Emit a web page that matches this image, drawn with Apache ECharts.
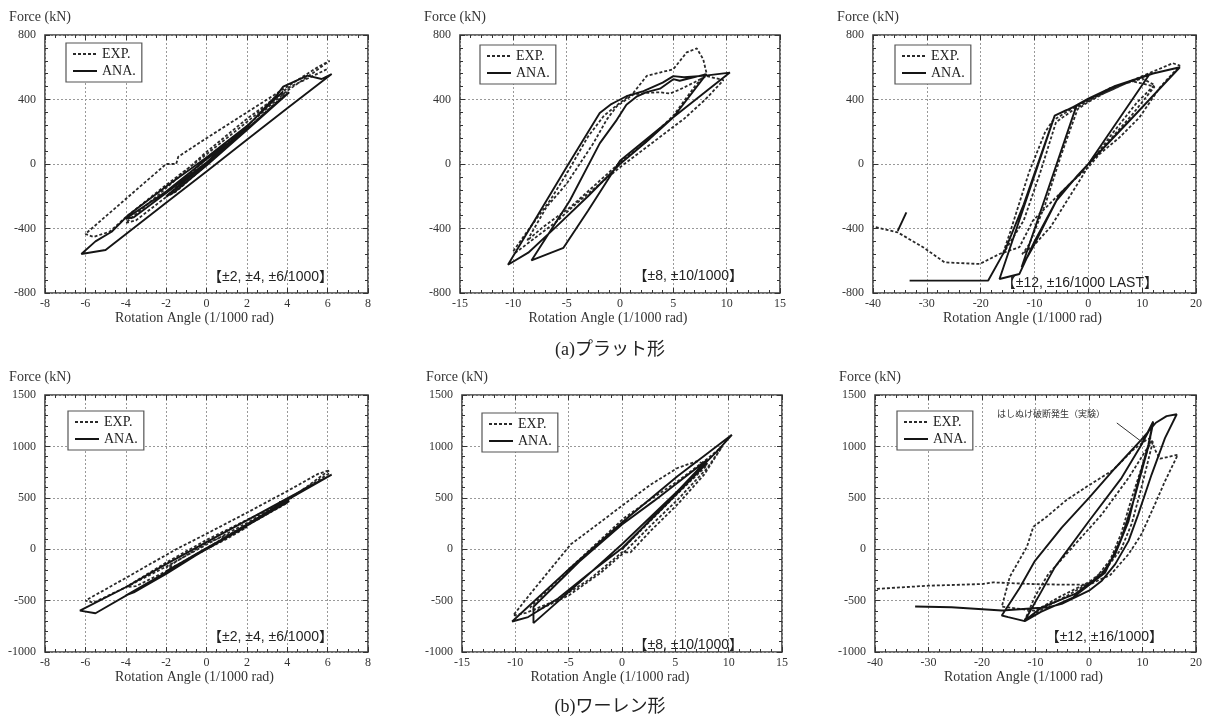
<!DOCTYPE html>
<html><head><meta charset="utf-8">
<script src="https://cdn.jsdelivr.net/npm/echarts@6/dist/echarts.min.js"></script>
<style>html,body{margin:0;padding:0;background:#fff}#c{width:1207px;height:720px}</style>
</head><body><div id="c"></div>
<script>
// ---------------- DATA ----------------
const seriesNames = ['EXP.', 'ANA.'];
const xTitle = 'Rotation Angle (1/1000 rad)';
const yTitle = 'Force (kN)';
const captions = ['(a)プラット形', '(b)ワーレン形'];
const notes = ['【±2, ±4, ±6/1000】', '【±8, ±10/1000】', '【±12, ±16/1000 LAST】',
               '【±2, ±4, ±6/1000】', '【±8, ±10/1000】', '【±12, ±16/1000】'];
const failNote = 'はしぬけ破断発生（実験）';
// axis ranges: [min, max, interval]
const xRangeSmall = [-8, 8, 2];
const xRangeMid = [-15, 15, 5];
const xRangeLarge = [-40, 20, 10];
const yRangePratt = [-800, 800, 400];
const yRangeWarren = [-1000, 1500, 500];

// (a) Pratt, ±2, ±4, ±6
const pratt1Exp = [[0,0],[1,110],[2,225],[1.5,185],[0,35],[-1,-85],[-2,-205],[-1.5,-170],[0,-5],[2,215],[4,445],[3.5,420],[2,280],[0,75],[-2,-150],[-4,-365],[-3.5,-350],[-2,-205],[0,0],[2,235],[4,455],[5,540],[6.1,640],[5.5,600],[4,480],[2,320],[0,160],[-1.4,45],[-1.5,0],[-2,0],[-4,-217],[-6,-434],[-5.6,-452],[-4.8,-420],[-4,-330],[-2,-130],[0,60],[2,260],[4,470],[6,590]];
const pratt1Ana = [[0,0],[2,210],[1.6,170],[0,5],[-2,-200],[-1.6,-175],[0,-10],[2,210],[4.1,445],[3.7,405],[2,215],[0,30],[-2,-170],[-4,-340],[-3.6,-330],[-2,-180],[0,10],[2,230],[3.5,430],[3.8,480],[5,548],[5.7,527],[6.2,558],[4,345],[2,150],[0,-46],[-2,-240],[-4,-435],[-5,-533],[-6.2,-558],[-5.5,-480],[-4.7,-420],[-3.9,-320],[-2,-140],[0,40],[2,235],[3.8,450]];

// (a) Pratt, ±8, ±10
const pratt2Exp = [[-10,-540],[-8.5,-400],[-6.5,-220],[-5,-60],[-3,170],[-1.5,300],[0,380],[1.25,441],[2.5,546],[3.75,567],[5,588],[6.25,692],[7.2,717],[7.8,650],[8.1,567],[7,480],[5,300],[2.5,140],[0,10],[-2,-110],[-4.7,-270],[-7.2,-390],[-8.7,-475],[-6.9,-268],[-5,-122],[-2.5,128],[-1.25,275],[-0.3,358],[1.25,431],[2.5,441],[3.75,445],[4.7,437],[5.6,462],[6.9,504],[8.1,546],[9.7,520],[8,400],[6,280],[4,180],[2,80],[0,-20],[-2,-130],[-4,-240],[-6,-360],[-8,-460],[-10,-560]];
const pratt2Ana = [[0,0],[2.5,140],[5,290],[8.1,557],[6.9,537],[5.6,516],[5,526],[3.75,467],[2.5,446],[1.6,420],[0.6,368],[-0.3,274],[-1.9,128],[-4.7,-226],[-8.3,-598],[-5.3,-520],[-3,-290],[0,20],[5,290],[10.3,567],[8,548],[6,538],[5,545],[4,505],[2.2,452],[0.6,420],[-0.3,389],[-0.9,368],[-1.9,316],[-5,-18],[-10.5,-625],[-8.6,-550],[-6,-390],[-3,-200],[0,0]];

// (a) Pratt, ±12, ±16 LAST
const pratt3Exp = [[0,0],[4,150],[8,300],[12.3,480],[8,515],[3,440],[0,385],[-2,340],[-5,60],[-8,-250],[-11,-500],[-12.3,-560],[-10,-500],[-7,-390],[-4,-230],[-1,-70],[0,-10],[4,170],[9,380],[12.3,490],[10,530],[4,470],[0,390],[-3,330],[-6,260],[-9,-60],[-12,-350],[-15.9,-560],[-14.5,-420],[-11,-50],[-8,200],[-6.6,269],[-3,345],[0,395],[5,470],[10,545],[15.7,625],[17,610],[13.3,475],[9.5,289],[5.8,165],[2.1,62],[0,-20],[-2.8,-103],[-6.6,-227],[-10.3,-351],[-12.8,-516],[-16.5,-558],[-20.2,-620],[-26.7,-610],[-30.7,-516],[-35.4,-424],[-40,-388]];
const pratt3Ana = [[0,0],[5,245],[11.4,558],[5,480],[0,403],[-2.2,362],[-7,-110],[-12.4,-640],[-10.3,-517],[-7.8,-351],[-5.3,-186],[-1.6,-62],[0,0],[8,282],[17,600],[12,562],[5,485],[0,405],[-3,350],[-6.25,300],[-16.5,-713],[-12.8,-682],[-10,-480],[-6,-230],[-2,-70],[0,0],[8,280],[17,600],[12,560],[5,480],[0,400],[-4,335],[-6.25,300],[-12,-250],[-15.5,-537],[-18.6,-723],[-33.2,-723]];
const pratt3Mark = [[-35.4,-415],[-33.8,-300]];

// (b) Warren, ±2, ±4, ±6
const warren1Exp = [[0,0],[1,100],[2,215],[1.5,175],[0,60],[-1,-60],[-2,-180],[-1.5,-160],[0,0],[2,230],[4,450],[3.5,425],[2,285],[0,90],[-2,-130],[-4,-370],[-3.5,-360],[-2,-215],[0,10],[2,240],[4,470],[6.1,770],[5.5,730],[4,565],[2,355],[0,150],[-1.5,0],[-4,-280],[-6,-500],[-5.6,-520],[-4,-370],[-2,-170],[0,45],[2,255],[4,485],[6.1,740]];
const warren1Ana = [[0,0],[2,225],[1.6,185],[0,10],[-2,-215],[-1.6,-180],[0,0],[2,230],[4.1,468],[3.7,425],[2,230],[0,2],[-2,-225],[-4,-450],[-3.6,-420],[-2,-240],[0,5],[2,240],[4,480],[6.2,726],[4,495],[2,280],[0,68],[-2,-145],[-4,-370],[-6.27,-597],[-5.5,-623],[-3,-340],[0,2],[2,230],[4.1,468],[3.6,460]];

// (b) Warren, ±8, ±10
const warren2Exp = [[0,0],[2.7,280],[5.2,540],[8,820],[7,855],[5.2,790],[2.7,629],[0.16,435],[-2.3,242],[-4.8,48],[-8.6,-435],[-10.2,-645],[-9,-620],[-6,-490],[-3,-290],[0,-30],[0.8,-30],[2.7,180],[5.2,435],[7.7,725],[9.4,1000],[8,880],[5.2,660],[2.7,485],[0.16,300],[-4.8,-177],[-8.6,-565],[-8,-600],[-5,-450],[-2,-230],[0,-50],[2.7,230],[5.2,480],[8,790],[9.4,1000]];
const warren2Ana = [[0,0],[4,430],[8,870],[6,710],[3,470],[0,240],[-4,-120],[-8.3,-560],[-8.3,-719],[-4.5,-371],[0,48],[5.2,565],[8.9,952],[10.3,1113],[5.2,710],[0.16,274],[-4.8,-177],[-10.3,-703],[-8.8,-660],[-6,-480],[-3,-230],[0,10],[4,420],[8,840]];

// (b) Warren, ±12, ±16
const warren3Exp = [[11.5,1050],[10.5,900],[8,500],[6,150],[4,-100],[1,-300],[-4,-450],[-8,-560],[-12,-690],[-10,-450],[-7.6,-242],[-2.6,48],[2.4,339],[7.4,694],[10.5,952],[12,1060],[11,850],[9.8,600],[8,250],[6,0],[3,-200],[0,-320],[-5,-450],[-10,-600],[-16.3,-559],[-14.8,-268],[-11.6,24],[-10.4,219],[-7.9,316],[-4.2,479],[-0.4,609],[4.5,770],[8.2,965],[10.7,1063],[11.5,1080],[12.5,950],[13.3,880],[15,900],[16.6,919],[14.2,661],[12.3,435],[9.8,145],[7.4,-48],[4,-250],[0,-345],[-5,-345],[-10,-340],[-17.9,-323],[-20,-339],[-30,-355],[-40,-387]];
const warren3Ana = [[-9,-420],[-6.4,-177],[0,274],[6.1,694],[9.8,1016],[12,1242],[11.1,1016],[9.2,661],[7.4,274],[4.9,-48],[2.4,-242],[-2.6,-435],[-8.8,-565],[-12,-694],[-9,-420],[-6.4,-177],[0,274],[6.1,694],[9.8,1016],[12,1230],[11,980],[8.5,500],[6,100],[3,-230],[-3,-470],[-9,-610],[-12,-700],[-15.1,-661],[-16.3,-645],[-13,-380],[-10.1,-113],[-5.1,210],[0,500],[4.9,790],[9.8,1065],[12.5,1230],[14.5,1295],[16.4,1313],[14.2,1080],[11.7,726],[9.2,339],[7.4,81],[4.9,-145],[2.4,-306],[0,-403],[-5.1,-532],[-7.6,-565],[-16.3,-597],[-25.7,-564],[-32.5,-558]];
const warren3Arrow = [[5.2,1228],[9.9,1043]];

// ---------------- LAYOUT ----------------
const SERIF = "'Liberation Serif','DejaVu Serif',serif";
const SANS = "'Liberation Sans','Noto Sans CJK JP',sans-serif";
const CJK = "'Liberation Serif','Noto Sans CJK JP',serif";

const panels = [
  {exp: pratt1Exp, ana: pratt1Ana, xr: xRangeSmall, yr: yRangePratt, box: [45, 35, 323, 258], leg: [66, 43], note: [333, 277], xMinor: 4},
  {exp: pratt2Exp, ana: pratt2Ana, xr: xRangeMid, yr: yRangePratt, box: [460, 35, 320, 258], leg: [480, 45], note: [743, 276], xMinor: 5},
  {exp: pratt3Exp, ana: pratt3Ana, xr: xRangeLarge, yr: yRangePratt, box: [873, 35, 323, 258], leg: [895, 45], note: [1158, 283], xMinor: 5},
  {exp: warren1Exp, ana: warren1Ana, xr: xRangeSmall, yr: yRangeWarren, box: [45, 395, 323, 257], leg: [68, 411], note: [333, 637], xMinor: 4},
  {exp: warren2Exp, ana: warren2Ana, xr: xRangeMid, yr: yRangeWarren, box: [462, 395, 320, 257], leg: [482, 413], note: [743, 645], xMinor: 5},
  {exp: warren3Exp, ana: warren3Ana, xr: xRangeLarge, yr: yRangeWarren, box: [875, 395, 321, 257], leg: [897, 411], note: [1163, 637], xMinor: 5}
];

const grid = [], xAxis = [], yAxis = [], series = [], legend = [], graphic = [];
const tickStyle = {color: '#333', width: 1};
const plain = v => String(v);
panels.forEach((p, i) => {
  grid.push({left: p.box[0], top: p.box[1], width: p.box[2], height: p.box[3],
    show: true, borderColor: '#3a3a3a', borderWidth: 1.6, backgroundColor: 'transparent'});
  const xBase = {gridIndex: i, type: 'value', min: p.xr[0], max: p.xr[1], interval: p.xr[2]};
  const yBase = {gridIndex: i, type: 'value', min: p.yr[0], max: p.yr[1], interval: p.yr[2]};
  xAxis.push(Object.assign({}, xBase, {
    position: 'bottom', axisLine: {show: false, onZero: false},
    axisTick: {show: true, inside: true, length: 5, lineStyle: tickStyle},
    minorTick: {show: true, splitNumber: p.xMinor, length: 3, lineStyle: tickStyle},
    splitLine: {show: true, lineStyle: {color: '#999', width: 1, type: [2, 2]}},
    axisLabel: {margin: 5, fontFamily: SERIF, fontSize: 12, color: '#333', showMinLabel: true, showMaxLabel: true, formatter: plain},
    name: xTitle, nameLocation: 'middle', nameGap: 18,
    nameTextStyle: {fontFamily: SERIF, fontSize: 14, color: '#333', padding: [0, 24, 0, 0]}
  }));
  xAxis.push(Object.assign({}, xBase, {
    position: 'top', axisLine: {show: false, onZero: false}, axisLabel: {show: false}, splitLine: {show: false},
    axisTick: {show: true, inside: true, length: 5, lineStyle: tickStyle},
    minorTick: {show: true, splitNumber: p.xMinor, length: 3, lineStyle: tickStyle}
  }));
  yAxis.push(Object.assign({}, yBase, {
    position: 'left', axisLine: {show: false, onZero: false},
    axisTick: {show: true, inside: true, length: 5, lineStyle: tickStyle},
    minorTick: {show: true, splitNumber: 5, length: 3, lineStyle: tickStyle},
    splitLine: {show: true, lineStyle: {color: '#999', width: 1, type: [2, 2]}},
    axisLabel: {margin: 9, fontFamily: SERIF, fontSize: 12, color: '#333', showMinLabel: true, showMaxLabel: true, formatter: plain},
    name: yTitle, nameLocation: 'end', nameGap: 11,
    nameTextStyle: {fontFamily: SERIF, fontSize: 14, color: '#333', align: 'center', padding: [0, 10, 0, 0]}
  }));
  yAxis.push(Object.assign({}, yBase, {
    position: 'right', axisLine: {show: false, onZero: false}, axisLabel: {show: false}, splitLine: {show: false},
    axisTick: {show: true, inside: true, length: 5, lineStyle: tickStyle},
    minorTick: {show: true, splitNumber: 5, length: 3, lineStyle: tickStyle}
  }));
  series.push({type: 'line', name: seriesNames[0], xAxisIndex: 2 * i, yAxisIndex: 2 * i, data: p.exp,
    symbol: 'none', showSymbol: false, clip: true, z: 3, color: '#2a2a2a',
    itemStyle: {color: '#2a2a2a'}, lineStyle: {color: '#2a2a2a', width: 1.8, type: [3, 2]}});
  series.push({type: 'line', name: seriesNames[1], xAxisIndex: 2 * i, yAxisIndex: 2 * i, data: p.ana,
    symbol: 'none', showSymbol: false, clip: true, z: 4, color: '#151515',
    itemStyle: {color: '#151515'}, lineStyle: {color: '#151515', width: 1.9, type: 'solid'}});
  legend.push({left: p.leg[0], top: p.leg[1], orient: 'vertical', data: seriesNames, selectedMode: false,
    itemWidth: 24, itemHeight: 12, itemGap: 3, padding: [4, 6, 4, 6],
    borderColor: '#555', borderWidth: 1.2, backgroundColor: '#fff',
    itemStyle: {color: 'rgba(0,0,0,0)', borderColor: 'rgba(0,0,0,0)', borderWidth: 0, opacity: 0},
    textStyle: {fontFamily: SERIF, fontSize: 14, color: '#222'}});
  graphic.push({type: 'text', x: p.note[0], y: p.note[1], z: 10,
    style: {text: notes[i], font: '14px ' + SANS, fill: '#222', align: 'right', verticalAlign: 'middle',
      textAlign: 'right', textVerticalAlign: 'middle'}});
});
series.push({type: 'line', name: 'mark', xAxisIndex: 4, yAxisIndex: 4, data: pratt3Mark, symbol: 'none',
  z: 4, lineStyle: {color: '#151515', width: 1.9}});
series.push({type: 'line', name: 'arrow', xAxisIndex: 10, yAxisIndex: 10, data: warren3Arrow, symbol: 'none',
  z: 4, lineStyle: {color: '#333', width: 1}});
graphic.push({type: 'text', x: 997, y: 415, z: 10,
  style: {text: failNote, font: '9px ' + SANS, fill: '#333', align: 'left', verticalAlign: 'middle',
    textAlign: 'left', textVerticalAlign: 'middle'}});
[[610, 350], [610, 707]].forEach((pos, k) => {
  graphic.push({type: 'text', x: pos[0], y: pos[1], z: 10,
    style: {text: captions[k], font: '18px ' + CJK, fill: '#222', align: 'center', verticalAlign: 'middle',
      textAlign: 'center', textVerticalAlign: 'middle'}});
});

const chart = echarts.init(document.getElementById('c'), null, {renderer: 'canvas'});
chart.setOption({animation: false, backgroundColor: '#fff', grid, xAxis, yAxis, series, legend, graphic});
</script>
</body></html>
